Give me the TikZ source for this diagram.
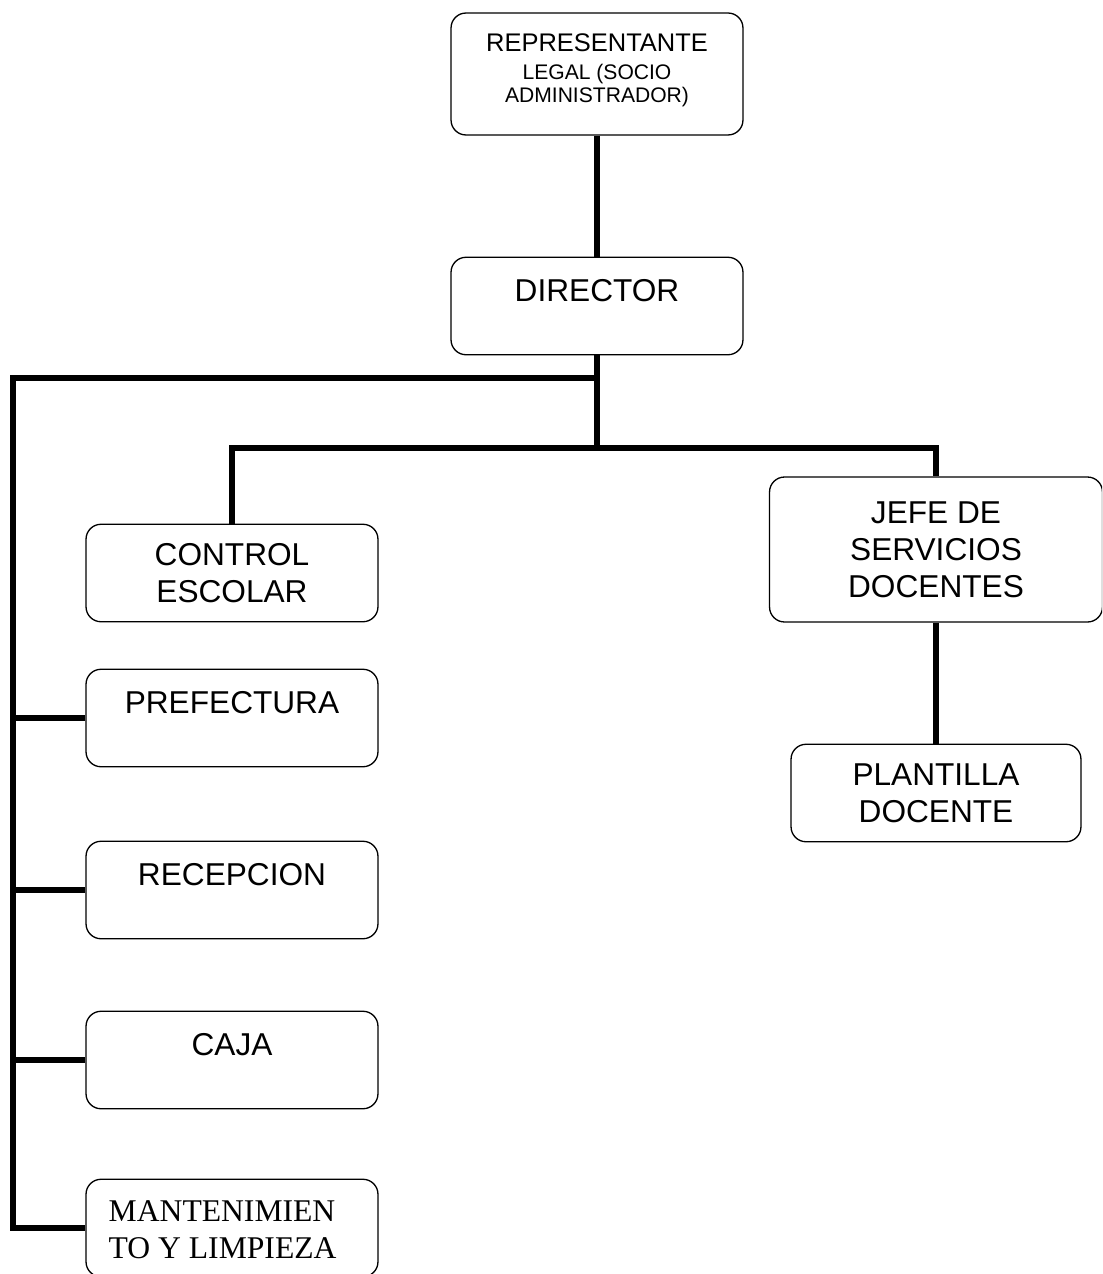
\documentclass[tikz,border=0pt]{standalone}
\usepackage{fontspec}
\setmainfont{Liberation Sans}
\newfontfamily\timesfont{Liberation Serif}
\usepackage{tikz}
\usetikzlibrary{calc}

\begin{document}
\begin{tikzpicture}[x=0.02cm, y=-0.02cm,
  unit/.style={draw, line width=0.75pt, rounded corners=0.3cm, minimum width=5.84cm, minimum height=1.95cm, inner sep=0pt, align=center, font=\fontsize{18}{21}\selectfont},
  lbl/.style={inner sep=0pt, font=\fontsize{18}{21}\selectfont},
  link/.style={line width=3pt}]
\clip (0,0) rectangle (1102,1274);
% boxes
\node[unit, minimum height=2.44cm] (rep) at (597,74) {};
\node[unit] (dir) at (597,306) {};
\node[unit] (ctrl) at (232,573) {CONTROL\\ESCOLAR};
\node[unit] (pref) at (232,718) {};
\node[unit] (recep) at (232,890) {};
\node[unit] (caja) at (232,1060) {};
\node[unit] (mant) at (232,1228) {};
\node[unit, minimum width=6.66cm, minimum height=2.9cm] (jefe) at (936,549.5) {JEFE DE\\SERVICIOS\\DOCENTES};
\node[unit, minimum width=5.8cm] (plant) at (936,793) {PLANTILLA\\DOCENTE};
% texts placed near the top of the box
\node[lbl, anchor=base, font=\fontsize{14.5}{17}\selectfont] (rep1) at ($(rep.north)+(0,39)$) {REPRESENTANTE};
\node[lbl, anchor=base, font=\fontsize{12}{14}\selectfont] (rep2) at ($(rep.north)+(0,67)$) {LEGAL (SOCIO};
\node[lbl, anchor=base, font=\fontsize{12}{14}\selectfont] (rep3) at ($(rep.north)+(0,90)$) {ADMINISTRADOR)};
\node[lbl, anchor=base] (dirtxt) at ($(dir.north)+(0,45)$) {DIRECTOR};
\node[lbl, anchor=base] (preftxt) at ($(pref.north)+(0,45)$) {PREFECTURA};
\node[lbl, anchor=base] (receptxt) at ($(recep.north)+(0,45)$) {RECEPCION};
\node[lbl, anchor=base] (cajatxt) at ($(caja.north)+(0,45)$) {CAJA};
\node[lbl, anchor=north west, align=left, font=\timesfont\fontsize{18}{21}\selectfont] (manttxt) at ($(mant.north west)+(23,22)$) {MANTENIMIEN\\TO Y LIMPIEZA};
% connectors
\coordinate (tap) at (597,378);
\coordinate (split) at (597,448);
\coordinate (rail) at (13,378);
\draw[link] (rep) -- (dir);
\draw[link] (dir) -- (split);
\draw[link] (ctrl.north) |- (split) -| (jefe.north);
\draw[link] (jefe) -- (plant);
\draw[link] (tap) -- (rail) |- (mant.west);
\foreach \b in {pref,recep,caja}
  \draw[link] (\b.west) -- (\b.west -| rail);
\end{tikzpicture}
\end{document}
